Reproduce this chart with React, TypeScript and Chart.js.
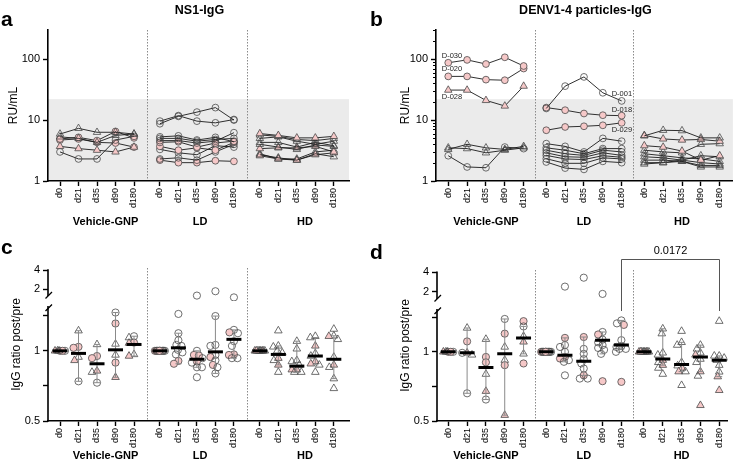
import React, { useEffect, useRef } from 'react';
import { Chart, registerables } from 'chart.js';
Chart.register(...registerables);

const FONT = '"Liberation Sans", Arial, Helvetica, sans-serif';
Chart.defaults.font.family = FONT;
Chart.defaults.color = '#000';

// ---------- data ----------
const DAYS = ['d0', 'd21', 'd35', 'd90', 'd180'];
const GROUPS = ['Vehicle-GNP', 'LD', 'HD'];
const CUTOFF = 22; // shaded region upper bound (RU/mL)
const PINK = '#f6c8c8';

// subject trajectories: [marker code, values at d0..d180]; code: c=circle t=triangle, o=open p=pink
type Subj = [string, number[]];
const NS1_VEH: Subj[] = [
  ['to', [5.9, 7.3, 6.3, 6.3, 5.9]],
  ['to', [5.3, 5.0, 4.3, 5.6, 5.9]],
  ['tp', [3.7, 3.4, 3.2, 3.0, 3.6]],
  ['co', [3.0, 2.3, 2.3, 4.7, 5.4]],
  ['cp', [4.9, 5.2, 4.6, 6.5, 5.1]],
  ['cp', [4.7, 4.9, 4.3, 4.2, 3.6]],
];
const NS1_LD: Subj[] = [
  ['co', [8.7, 11.5, 13.5, 16, 10]],
  ['co', [9.6, 11.8, 9.6, 9.0, 10.2]],
  ['co', [5.3, 5.5, 4.7, 5.2, 4.4]],
  ['co', [5.0, 5.0, 4.5, 4.8, 5.0]],
  ['co', [4.6, 4.6, 4.2, 4.5, 6.2]],
  ['cp', [4.3, 4.4, 3.6, 4.2, 4.5]],
  ['cp', [3.7, 3.2, 3.5, 3.2, 4.3]],
  ['co', [3.3, 2.9, 2.7, 3.8, 3.6]],
  ['co', [2.3, 2.4, 2.2, 3.0, 4.0]],
  ['cp', [2.2, 2.0, 2.0, 2.15, 2.1]],
];
const NS1_HD: Subj[] = [
  ['tp', [6.0, 5.6, 5.1, 5.1, 5.4]],
  ['to', [5.7, 5.4, 4.8, 4.6, 5.0]],
  ['to', [5.0, 5.3, 4.5, 4.0, 4.5]],
  ['to', [4.3, 4.3, 3.6, 4.3, 3.8]],
  ['to', [4.0, 3.6, 3.3, 3.9, 3.7]],
  ['tp', [3.4, 3.5, 3.5, 3.7, 3.0]],
  ['to', [2.7, 2.4, 2.2, 2.8, 2.5]],
  ['tp', [2.6, 2.3, 2.2, 2.7, 2.9]],
  ['to', [2.8, 2.3, 2.3, 3.0, 3.2]],
];
const DENV_VEH: Subj[] = [
  ['cp', [87, 97, 83, 107, 77]],
  ['cp', [52, 52, 46, 45, 70]],
  ['tp', [31, 31, 21, 17, 36]],
  ['to', [3.3, 4.0, 3.5, 3.3, 3.7]],
  ['to', [3.5, 3.4, 2.9, 3.2, 3.5]],
  ['co', [2.6, 1.7, 1.65, 3.6, 3.4]],
];
const DENV_LD: Subj[] = [
  ['co', [15.5, 36, 51, 28, 20.6]],
  ['cp', [16, 14.5, 12.8, 12, 11.8]],
  ['cp', [6.8, 7.7, 7.9, 8.2, 9.0]],
  ['co', [4.1, 3.7, 3.0, 5.0, 4.5]],
  ['co', [3.5, 3.2, 2.8, 3.4, 3.4]],
  ['co', [3.2, 2.8, 2.63, 3.2, 3.0]],
  ['co', [2.9, 2.5, 2.45, 2.9, 2.63]],
  ['co', [2.63, 2.3, 2.25, 2.6, 2.45]],
  ['co', [2.32, 1.95, 1.95, 2.4, 2.3]],
  ['co', [2.05, 1.63, 1.55, 2.1, 2.0]],
];
const DENV_HD: Subj[] = [
  ['to', [5.5, 6.8, 6.7, 5.1, 5.1]],
  ['tp', [5.6, 4.9, 4.7, 4.8, 4.5]],
  ['tp', [3.8, 3.6, 3.1, 2.2, 2.6]],
  ['to', [3.2, 3.0, 2.9, 4.0, 4.1]],
  ['to', [2.8, 2.6, 2.4, 2.3, 2.1]],
  ['to', [2.5, 2.4, 2.2, 2.0, 1.9]],
  ['to', [2.2, 2.2, 2.1, 1.8, 1.8]],
  ['to', [2.0, 2.0, 2.2, 2.6, 2.5]],
  ['to', [1.9, 2.0, 2.1, 1.7, 1.7]],
];
// labelled subjects in panel b: [label, group, subject index, day index]
const DENV_TAGS: [string, number, number, number][] = [
  ['D-030', 0, 0, 0], ['D-020', 0, 1, 0], ['D-028', 0, 2, 0],
  ['D-001', 1, 0, 4], ['D-018', 1, 1, 4], ['D-029', 1, 2, 4],
];

// ratio post/pre: per day, list of [value, marker code]
type Pt = [number, string];
const NS1R_VEH: Pt[][] = [
  [[1, 'cp'], [1, 'tp'], [1, 'co'], [1, 'to'], [1, 'cp'], [1, 'to']],
  [[1.22, 'to'], [1.04, 'cp'], [1.03, 'cp'], [0.94, 'to'], [0.91, 'tp'], [0.74, 'co']],
  [[1.065, 'to'], [0.95, 'cp'], [0.93, 'cp'], [0.82, 'tp'], [0.81, 'to'], [0.73, 'co']],
  [[1.46, 'co'], [1.31, 'cp'], [1.07, 'to'], [0.96, 'to'], [0.89, 'cp'], [0.77, 'tp']],
  [[1.155, 'co'], [1.14, 'to'], [1.085, 'cp'], [1.08, 'tp'], [0.965, 'to'], [0.95, 'tp']],
];
const NS1R_LD: Pt[][] = [
  [[1, 'co'], [1, 'cp'], [1, 'co'], [1, 'cp'], [1, 'co'], [1, 'co'], [1, 'cp'], [1, 'co'], [1, 'co'], [1, 'cp']],
  [[1.44, 'co'], [1.19, 'co'], [1.11, 'co'], [1.06, 'co'], [1.05, 'co'], [1.01, 'co'], [0.985, 'co'], [0.965, 'co'], [0.905, 'cp'], [0.88, 'cp']],
  [[1.6, 'co'], [1.0, 'co'], [0.96, 'cp'], [0.955, 'cp'], [0.93, 'co'], [0.9, 'cp'], [0.89, 'co'], [0.85, 'co'], [0.85, 'co'], [0.77, 'co']],
  [[1.87, 'co'], [1.41, 'co'], [1.06, 'co'], [1.05, 'co'], [0.96, 'co'], [0.94, 'cp'], [0.91, 'co'], [0.87, 'cp'], [0.85, 'co'], [0.8, 'co']],
  [[1.5, 'co'], [1.23, 'co'], [1.2, 'cp'], [1.19, 'co'], [1.1, 'co'], [1.05, 'co'], [0.965, 'cp'], [0.96, 'cp'], [0.93, 'co'], [0.93, 'co']],
];
const NS1R_HD: Pt[][] = [
  [[1, 'to'], [1, 'tp'], [1, 'to'], [1, 'to'], [1, 'tp'], [1, 'to'], [1, 'to'], [1, 'tp'], [1, 'to']],
  [[1.22, 'to'], [1.05, 'to'], [1.04, 'to'], [1.0, 'to'], [0.98, 'to'], [0.93, 'tp'], [0.91, 'to'], [0.87, 'tp'], [0.81, 'to']],
  [[1.1, 'to'], [1.02, 'to'], [0.91, 'to'], [0.9, 'to'], [0.87, 'to'], [0.83, 'tp'], [0.83, 'tp'], [0.81, 'to'], [0.81, 'to']],
  [[1.155, 'to'], [1.14, 'to'], [1.05, 'tp'], [0.975, 'to'], [0.95, 'to'], [0.9, 'tp'], [0.88, 'tp'], [0.87, 'to'], [0.81, 'to']],
  [[1.24, 'to'], [1.16, 'to'], [1.155, 'tp'], [1.12, 'to'], [0.94, 'to'], [0.87, 'tp'], [0.85, 'to'], [0.76, 'to'], [0.69, 'to']],
];
const NS1R_MED = [1.0, 0.975, 0.88, 1.01, 1.065, 1.0, 1.03, 0.92, 0.99, 1.12, 1.0, 0.965, 0.86, 0.95, 0.92];
const NS1R_LO: (number | null)[] = [null, 0.74, 0.73, 0.77, 0.95, null, 0.88, 0.85, 0.8, 0.93, null, 0.87, 0.81, 0.87, 0.76];
const NS1R_HI: (number | null)[] = [null, 1.22, 1.065, 1.46, 1.155, null, 1.19, 1.0, 1.41, 1.23, null, 1.05, 1.1, 1.14, 1.16];

const DENVR_VEH: Pt[][] = [
  [[1, 'cp'], [1, 'tp'], [1, 'co'], [1, 'to'], [1, 'cp'], [1, 'to']],
  [[1.27, 'to'], [1.11, 'cp'], [0.99, 'tp'], [0.99, 'co'], [0.97, 'to'], [0.66, 'co']],
  [[1.135, 'to'], [0.95, 'cp'], [0.9, 'cp'], [0.8, 'to'], [0.674, 'tp'], [0.62, 'co']],
  [[1.39, 'co'], [1.2, 'cp'], [1.05, 'to'], [0.92, 'to'], [0.875, 'cp'], [0.53, 'tp']],
  [[1.36, 'cp'], [1.29, 'co'], [1.17, 'to'], [1.105, 'tp'], [0.98, 'to'], [0.89, 'cp']],
];
const DENVR_LD: Pt[][] = [
  [[1, 'co'], [1, 'cp'], [1, 'co'], [1, 'cp'], [1, 'co'], [1, 'co'], [1, 'cp'], [1, 'co'], [1, 'co'], [1, 'cp']],
  [[2.4, 'co'], [1.15, 'cp'], [1.07, 'co'], [1.05, 'co'], [1.0, 'co'], [0.95, 'cp'], [0.935, 'cp'], [0.92, 'co'], [0.905, 'co'], [0.79, 'co']],
  [[3.3, 'co'], [1.16, 'cp'], [1.03, 'co'], [0.98, 'co'], [0.93, 'co'], [0.89, 'co'], [0.846, 'co'], [0.79, 'cp'], [0.765, 'co'], [0.765, 'co']],
  [[1.85, 'co'], [1.22, 'co'], [1.19, 'cp'], [1.13, 'co'], [1.1, 'co'], [1.07, 'co'], [1.04, 'co'], [1.02, 'co'], [0.98, 'co'], [0.745, 'cp']],
  [[1.37, 'co'], [1.33, 'co'], [1.31, 'cp'], [1.124, 'co'], [1.06, 'co'], [1.05, 'co'], [1.03, 'co'], [1.03, 'co'], [1.0, 'co'], [0.74, 'cp']],
];
const DENVR_HD: Pt[][] = [
  [[1, 'to'], [1, 'tp'], [1, 'to'], [1, 'to'], [1, 'tp'], [1, 'to'], [1, 'to'], [1, 'tp'], [1, 'to']],
  [[1.26, 'to'], [1.2, 'to'], [0.99, 'to'], [0.97, 'to'], [0.92, 'tp'], [0.9, 'to'], [0.875, 'tp'], [0.85, 'to'], [0.8, 'to']],
  [[1.23, 'to'], [1.1, 'to'], [1.07, 'to'], [0.9, 'to'], [0.87, 'to'], [0.85, 'tp'], [0.82, 'tp'], [0.82, 'to'], [0.715, 'to']],
  [[1.07, 'to'], [1.03, 'to'], [0.99, 'to'], [0.97, 'tp'], [0.93, 'to'], [0.9, 'to'], [0.82, 'tp'], [0.785, 'to'], [0.585, 'tp']],
  [[1.36, 'to'], [0.96, 'to'], [0.96, 'to'], [0.94, 'to'], [0.92, 'to'], [0.875, 'to'], [0.818, 'to'], [0.78, 'tp'], [0.68, 'tp']],
];
const DENVR_MED = [1.0, 0.99, 0.855, 0.98, 1.15, 1.0, 0.967, 0.91, 1.124, 1.07, 1.0, 0.93, 0.88, 0.95, 0.92];
const DENVR_LO: (number | null)[] = [null, 0.66, 0.62, 0.53, 0.98, null, 0.905, 0.79, 0.98, 1.03, null, 0.875, 0.82, 0.82, 0.78];
const DENVR_HI: (number | null)[] = [null, 1.27, 1.135, 1.39, 1.29, null, 1.15, 1.16, 1.22, 1.37, null, 1.26, 1.1, 1.07, 0.96];
const P_VALUE = '0.0172';
const RATIO_BREAK = 1.5; // values at or above go on the upper (compressed) axis segment

// ---------- layout ----------
interface Layout {
  left: number; top: number; axisW: number; padTop: number; padRight: number; xAxisH: number;
  gap: number; xmin: number; xmax: number; unit: number; labelPos: number[];
  letter: string; letterY: number; groupY: number; titleX: number;
}
const LAYOUT_A: Layout = { left: 0, top: 0, axisW: 48, padTop: 30, padRight: 20, xAxisH: 54, gap: 5.4, xmin: -0.649, xmax: 15.62, unit: 18.5, labelPos: [2.46, 7.57, 13.24], letter: 'a', letterY: 26, groupY: 222, titleX: 14 };
const LAYOUT_B: Layout = { left: 369, top: 0, axisW: 67, padTop: 30, padRight: 1, xAxisH: 54, gap: 5.2, xmin: -0.65, xmax: 15.1, unit: 19.1, labelPos: [2.0, 7.2, 12.4], letter: 'b', letterY: 26, groupY: 222, titleX: 37 };
const LAYOUT_C: Layout = { left: 0, top: 235, axisW: 48, padTop: 33, padRight: 20, xAxisH: 49, gap: 5.4, xmin: -0.649, xmax: 15.62, unit: 18.5, labelPos: [2.46, 7.57, 13.24], letter: 'c', letterY: 19, groupY: 221, titleX: 17 };
const LAYOUT_D: Layout = { left: 369, top: 235, axisW: 68, padTop: 35, padRight: 6, xAxisH: 49, gap: 5.2, xmin: -0.6, xmax: 14.84, unit: 19.1, labelPos: [2.0, 7.2, 12.4], letter: 'd', letterY: 24, groupY: 221, titleX: 37 };
// split axis ranges for ratio panels
const SPLIT_C = { lowMax: 1.636, highMin: 1.318, highMax: 4.3, wLow: 120, wHigh: 33 };
const SPLIT_D = { lowMax: 1.615, highMin: 1.291, highMax: 4.34, wLow: 117, wHigh: 34 };
const TAG_OFFSETS: [number, number][] = [[-6.5, -7], [-6.5, -7], [-6.5, 6.5], [-10, -6.7], [-10, -5.5], [-10, 7.5]];

const pos = (gap: number, g: number, d: number) => g * gap + d;

// ---------- helpers ----------
function xScale(L: Layout) {
  const ticks: number[] = [];
  for (let g = 0; g < 3; g++) for (let d = 0; d < 5; d++) ticks.push(pos(L.gap, g, d));
  return {
    type: 'linear', min: L.xmin, max: L.xmax, bounds: 'data',
    afterBuildTicks: (s: any) => { s.ticks = ticks.map((v) => ({ value: v })); },
    afterFit: (s: any) => { s.height = L.xAxisH; },
    ticks: { autoSkip: false, minRotation: 90, maxRotation: 90, padding: 2, font: { size: 9 }, color: '#000', callback: (_v: any, i: number) => DAYS[i % 5] },
    grid: { display: true, drawOnChartArea: false, drawTicks: true, tickLength: 5, tickColor: '#000', tickWidth: 1.4 },
    border: { display: true, color: '#000', width: 1.6 },
  };
}

const markerStyle = (m: string) => (m[0] === 't' ? 'triangle' : 'circle');
const markerFill = (m: string) => (m[1] === 'p' ? PINK : 'rgba(255,255,255,0)');

interface Deco {
  L: Layout; title?: string; yTitle: string; band?: boolean; minor?: boolean;
  tags?: { groups: Subj[][] }; split?: boolean; bracket?: boolean;
}

function decorPlugin(p: Deco) {
  const L = p.L;
  return {
    id: 'decor',
    beforeDraw(chart: any) {
      const { ctx, chartArea: ca, scales } = chart;
      ctx.save();
      if (p.band) {
        const y = scales.y.getPixelForValue(CUTOFF);
        ctx.fillStyle = '#ebebeb';
        ctx.fillRect(ca.left, y, ca.right - ca.left, ca.bottom - y);
      }
      ctx.strokeStyle = '#8a8a8a';
      ctx.lineWidth = 1;
      ctx.setLineDash([1.5, 1.5]);
      for (const g of [0, 1]) {
        const xv = (pos(L.gap, g, 4) + pos(L.gap, g + 1, 0)) / 2;
        const x = Math.round(scales.x.getPixelForValue(xv)) + 0.5;
        ctx.beginPath(); ctx.moveTo(x, ca.top); ctx.lineTo(x, ca.bottom); ctx.stroke();
      }
      ctx.restore();
    },
    afterDraw(chart: any) {
      const { ctx, chartArea: ca, scales } = chart;
      ctx.save();
      ctx.fillStyle = '#000';
      ctx.strokeStyle = '#000';
      // panel letter
      ctx.font = `bold 21px ${FONT}`;
      ctx.textAlign = 'left'; ctx.textBaseline = 'alphabetic';
      ctx.fillText(L.letter, 1, L.letterY);
      // title
      if (p.title) {
        ctx.font = `bold 12.5px ${FONT}`;
        ctx.textAlign = 'center'; ctx.textBaseline = 'middle';
        ctx.fillText(p.title, (ca.left + ca.right) / 2 + 1, 10.5);
      }
      // y title
      ctx.save();
      ctx.translate(L.titleX, (ca.top + ca.bottom) / 2);
      ctx.rotate(-Math.PI / 2);
      ctx.font = `12px ${FONT}`;
      ctx.textAlign = 'center'; ctx.textBaseline = 'middle';
      ctx.fillText(p.yTitle, 0, 0);
      ctx.restore();
      // group labels
      ctx.font = `bold 11px ${FONT}`;
      ctx.textAlign = 'center'; ctx.textBaseline = 'middle';
      GROUPS.forEach((name, g) => ctx.fillText(name, scales.x.getPixelForValue(L.labelPos[g]), L.groupY));
      // minor log ticks
      if (p.minor) {
        const ys = scales.y;
        ctx.lineWidth = 1;
        ctx.beginPath();
        for (const dec of [1, 10, 100]) {
          for (let k = 2; k <= 9; k++) {
            const v = k * dec;
            if (v > ys.max) break;
            const y = Math.round(ys.getPixelForValue(v)) + 0.5;
            ctx.moveTo(ca.left - 3, y); ctx.lineTo(ca.left, y);
          }
        }
        ctx.stroke();
      }
      // labelled subjects
      if (p.tags) {
        ctx.font = `7.5px ${FONT}`;
        ctx.textAlign = 'left'; ctx.textBaseline = 'middle';
        ctx.fillStyle = '#222';
        DENV_TAGS.forEach(([label, g, s, d], i) => {
          const v = p.tags!.groups[g][s][1][d];
          const x = scales.x.getPixelForValue(pos(L.gap, g, d));
          const y = scales.y.getPixelForValue(v);
          ctx.fillText(label, x + TAG_OFFSETS[i][0], y + TAG_OFFSETS[i][1]);
        });
      }
      // broken y axis
      if (p.split) {
        const hi = scales.yHigh, lo = scales.yLow;
        const ax = ca.left;
        const B = lo.top;
        ctx.strokeStyle = '#000';
        ctx.lineWidth = 1.6;
        ctx.beginPath();
        ctx.moveTo(ax, hi.getPixelForValue(4) - 0.8); ctx.lineTo(ax, B - 5);
        ctx.moveTo(ax, B + 5); ctx.lineTo(ax, ca.bottom + 0.8);
        ctx.stroke();
        ctx.lineWidth = 1.3;
        ctx.beginPath();
        ctx.moveTo(ax - 2.5, B - 2.5); ctx.lineTo(ax + 4, B - 9);
        ctx.moveTo(ax - 2.5, B + 10); ctx.lineTo(ax + 4, B + 3.5);
        ctx.stroke();
      }
      // significance bracket
      if (p.bracket) {
        const x1 = Math.round(scales.x.getPixelForValue(pos(L.gap, 1, 4))) + 0.5;
        const x2 = Math.round(scales.x.getPixelForValue(pos(L.gap, 2, 4))) + 0.5;
        const yTop = ca.top - 10.5;
        const yBot = scales.yLow.top + 7;
        ctx.strokeStyle = '#555';
        ctx.lineWidth = 1;
        ctx.beginPath();
        ctx.moveTo(x1, yBot); ctx.lineTo(x1, yTop); ctx.lineTo(x2, yTop); ctx.lineTo(x2, yBot);
        ctx.stroke();
        ctx.fillStyle = '#000';
        ctx.font = `11px ${FONT}`;
        ctx.textAlign = 'center'; ctx.textBaseline = 'middle';
        ctx.fillText(P_VALUE, (x1 + x2) / 2, yTop - 9);
      }
      ctx.restore();
    },
  };
}

function lineConfig(L: Layout, groups: Subj[][], deco: Deco) {
  const datasets: any[] = [];
  groups.forEach((subs, g) => subs.forEach(([m, vals]) => {
    const tri = m[0] === 't';
    datasets.push({
      data: vals.map((v, d) => ({ x: pos(L.gap, g, d), y: v })),
      showLine: true, borderColor: '#1a1a1a', borderWidth: 0.9,
      pointStyle: markerStyle(m), pointRadius: tri ? 4.3 : 3.4,
      pointBackgroundColor: markerFill(m), pointBorderColor: '#4a4a4a', pointBorderWidth: 0.8,
    });
  }));
  return {
    type: 'scatter',
    data: { datasets },
    options: {
      responsive: false, animation: false, devicePixelRatio: 1, events: [],
      layout: { padding: { top: L.padTop, right: L.padRight, left: 0, bottom: 0 } },
      plugins: { legend: { display: false }, tooltip: { enabled: false } },
      scales: {
        x: xScale(L),
        y: {
          type: 'logarithmic', min: 1, max: 300, bounds: 'data',
          afterBuildTicks: (s: any) => { s.ticks = [1, 10, 100].map((v) => ({ value: v })); },
          afterFit: (s: any) => { s.width = L.axisW; },
          ticks: { font: { size: 11 }, color: '#000', padding: 3, callback: (v: any) => String(v) },
          grid: { display: true, drawOnChartArea: false, drawTicks: true, tickLength: 5, tickColor: '#000', tickWidth: 1.4 },
          border: { display: true, color: '#000', width: 1.6 },
        },
      },
    },
    plugins: [decorPlugin(deco)],
  };
}

function swarm(vals: number[], unitPx: number): number[] {
  const yp = vals.map((v) => (v >= RATIO_BREAK ? 5000 - Math.log2(v) * 19 : -Math.log2(v) * 70));
  const idx = vals.map((_, i) => i).sort((a, b) => yp[a] - yp[b]);
  const placed: [number, number][] = [];
  const out = vals.map(() => 0);
  const cands: number[] = [0];
  for (let s = 0.5; s <= 5.5; s += 0.5) cands.push(-s, s);
  for (const i of idx) {
    let best = 0, bestD = -1;
    for (const c of cands) {
      let dmin = Infinity;
      for (const [px, py] of placed) dmin = Math.min(dmin, Math.hypot(px - c, py - yp[i]));
      if (dmin >= 5) { best = c; break; }
      if (dmin > bestD + 1e-6) { bestD = dmin; best = c; }
    }
    placed.push([best, yp[i]]);
    out[i] = best / unitPx;
  }
  return out;
}

function ratioConfig(L: Layout, groups: Pt[][][], med: number[], lo: (number | null)[], hi: (number | null)[], split: typeof SPLIT_C, deco: Deco) {
  const lowPts: any[] = [];
  const highPts: any[] = [];
  groups.forEach((cols, g) => cols.forEach((col, d) => {
    const vals = col.map((p) => p[0]);
    const off = swarm(vals, L.unit);
    col.forEach(([v, m], i) => {
      const pt = { x: pos(L.gap, g, d) + off[i], y: v, m };
      (v >= RATIO_BREAK ? highPts : lowPts).push(pt);
    });
  }));
  const whisk: any[] = [];
  const meds: any[] = [];
  med.forEach((mv, k) => {
    const x = pos(L.gap, Math.floor(k / 5), k % 5);
    meds.push({ x, y: mv });
    if (lo[k] != null && hi[k] != null) {
      whisk.push({ x, y: lo[k] }, { x, y: hi[k] }, { x, y: null });
    }
  });
  const ptStyle = {
    showLine: false,
    pointStyle: (c: any) => (c.raw ? markerStyle(c.raw.m) : 'circle'),
    pointRadius: (c: any) => (c.raw && c.raw.m[0] === 't' ? 4.4 : 3.6),
    pointBackgroundColor: (c: any) => (c.raw ? markerFill(c.raw.m) : 'rgba(0,0,0,0)'),
    pointBorderColor: '#4a4a4a', pointBorderWidth: 0.8, order: 2,
  };
  const yCommon = {
    type: 'logarithmic', bounds: 'data', position: 'left', stack: 'ratio',
    afterFit: (s: any) => { s.width = L.axisW; },
    grid: { display: true, drawOnChartArea: false, drawTicks: true, tickLength: 5, tickColor: '#000', tickWidth: 1.4 },
    border: { display: false },
  };
  return {
    type: 'scatter',
    data: {
      datasets: [
        { data: meds, yAxisID: 'yLow', showLine: false, pointStyle: 'line', pointRadius: 7.5, pointBorderWidth: 3, pointBorderColor: '#000', pointBackgroundColor: '#000', order: 0 },
        { data: whisk, yAxisID: 'yLow', showLine: true, spanGaps: false, borderColor: '#8a8a8a', borderWidth: 1, pointStyle: 'line', pointRadius: 3, pointBorderColor: '#8a8a8a', pointBorderWidth: 1, order: 1 },
        { data: lowPts, yAxisID: 'yLow', ...ptStyle },
        { data: highPts, yAxisID: 'yHigh', ...ptStyle },
      ],
    },
    options: {
      responsive: false, animation: false, devicePixelRatio: 1, events: [],
      layout: { padding: { top: L.padTop, right: L.padRight, left: 0, bottom: 0 } },
      plugins: { legend: { display: false }, tooltip: { enabled: false } },
      scales: {
        x: xScale(L),
        yLow: {
          ...yCommon, min: 0.5, max: split.lowMax, stackWeight: split.wLow,
          afterBuildTicks: (s: any) => { s.ticks = [0.5, Math.SQRT1_2, 1, Math.SQRT2].map((v) => ({ value: v })); },
          ticks: { font: { size: 11 }, color: '#000', padding: 3, callback: (v: any) => (v === 0.5 ? '0.5' : v === 1 ? '1' : '') },
        },
        yHigh: {
          ...yCommon, min: split.highMin, max: split.highMax, stackWeight: split.wHigh,
          afterBuildTicks: (s: any) => { s.ticks = [2, 4].map((v) => ({ value: v })); },
          ticks: { font: { size: 11 }, color: '#000', padding: 3, callback: (v: any) => String(v) },
        },
      },
    },
    plugins: [decorPlugin(deco)],
  };
}

function Panel({ L, make }: { L: Layout; make: () => any }) {
  const ref = useRef<HTMLCanvasElement>(null);
  useEffect(() => {
    const chart = new Chart(ref.current as HTMLCanvasElement, make());
    return () => chart.destroy();
  }, []);
  return (
    <canvas ref={ref} width={369} height={235}
      style={{ position: 'absolute', left: L.left, top: L.top, width: 369, height: 235 }} />
  );
}

export default function App() {
  const ns1Groups = [NS1_VEH, NS1_LD, NS1_HD];
  const denvGroups = [DENV_VEH, DENV_LD, DENV_HD];
  return (
    <div style={{ position: 'absolute', left: 0, top: 0, width: 738, height: 470, background: '#fff', overflow: 'hidden' }}>
      <Panel L={LAYOUT_A} make={() => lineConfig(LAYOUT_A, ns1Groups, { L: LAYOUT_A, title: 'NS1-IgG', yTitle: 'RU/mL', band: true })} />
      <Panel L={LAYOUT_B} make={() => lineConfig(LAYOUT_B, denvGroups, { L: LAYOUT_B, title: 'DENV1-4 particles-IgG', yTitle: 'RU/mL', band: true, minor: true, tags: { groups: denvGroups } })} />
      <Panel L={LAYOUT_C} make={() => ratioConfig(LAYOUT_C, [NS1R_VEH, NS1R_LD, NS1R_HD], NS1R_MED, NS1R_LO, NS1R_HI, SPLIT_C, { L: LAYOUT_C, yTitle: 'IgG ratio post/pre', split: true })} />
      <Panel L={LAYOUT_D} make={() => ratioConfig(LAYOUT_D, [DENVR_VEH, DENVR_LD, DENVR_HD], DENVR_MED, DENVR_LO, DENVR_HI, SPLIT_D, { L: LAYOUT_D, yTitle: 'IgG ratio post/pre', split: true, bracket: true })} />
    </div>
  );
}
